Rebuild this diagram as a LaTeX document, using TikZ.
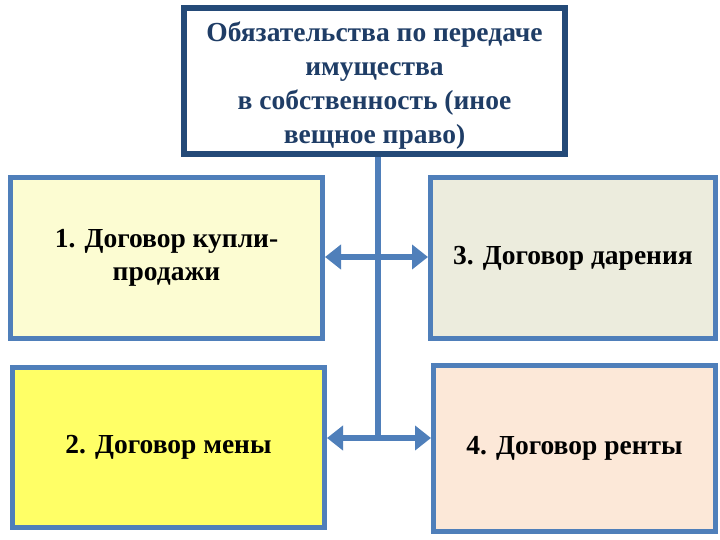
\documentclass[tikz,border=0pt]{standalone}
\usepackage{fontspec}
\setmainfont{Liberation Serif}
\usetikzlibrary{arrows.meta}
\definecolor{navy}{HTML}{244A78}
\definecolor{navytext}{HTML}{1F3D66}
\definecolor{steel}{HTML}{4F7FBA}
\definecolor{fillA}{HTML}{FCFCD2}
\definecolor{fillB}{HTML}{ECECDD}
\definecolor{fillC}{HTML}{FFFF66}
\definecolor{fillD}{HTML}{FCE8D8}
\tikzset{
  box/.style={draw=steel, line width=5pt, inner sep=0pt, align=center, font=\fontsize{27.5}{33}\selectfont\bfseries},
  link/.style={draw=steel, line width=6pt},
  dbl/.style={link, -{Triangle[length=16pt,width=24pt]}},
}
\begin{document}
\begin{tikzpicture}[x=1pt,y=-1pt]
\useasboundingbox (0,0) rectangle (720,540);
\fill[white] (0,0) rectangle (720,540);
\node[draw=navy, line width=6pt, inner sep=0pt, minimum width=381pt, minimum height=146pt] (top) at (374.5,81) {};
\node[inner sep=0pt, align=center, text=navytext, font=\fontsize{27.5}{34}\selectfont\bfseries] (toptext) at (374.5,86)
  {Обязательства по передаче\\имущества\\в собственность (иное\\вещное право)};
\node[box, fill=fillA, minimum width=312pt, minimum height=161pt] (b1) at (166.5,258) {1. Договор купли-\\продажи};
\node[box, fill=fillB, minimum width=285pt, minimum height=161pt] (b3) at (573,258) {3. Договор дарения};
\node[box, fill=fillC, minimum width=312pt, minimum height=160pt] (b2) at (168.5,447.5) {2. Договор мены};
\node[box, fill=fillD, minimum width=282pt, minimum height=166pt] (b4) at (574.5,448.5) {4. Договор ренты};
\coordinate (bot) at (378,438);
\coordinate (j1) at (378,257);
\draw[link] (top.south -| bot) -- (bot);
\draw[dbl] (j1) -- (b1.east |- j1);
\draw[dbl] (j1) -- (b3.west |- j1);
\draw[dbl] (bot) -- (b2.east |- bot);
\draw[dbl] (bot) -- (b4.west |- bot);
\end{tikzpicture}
\end{document}
